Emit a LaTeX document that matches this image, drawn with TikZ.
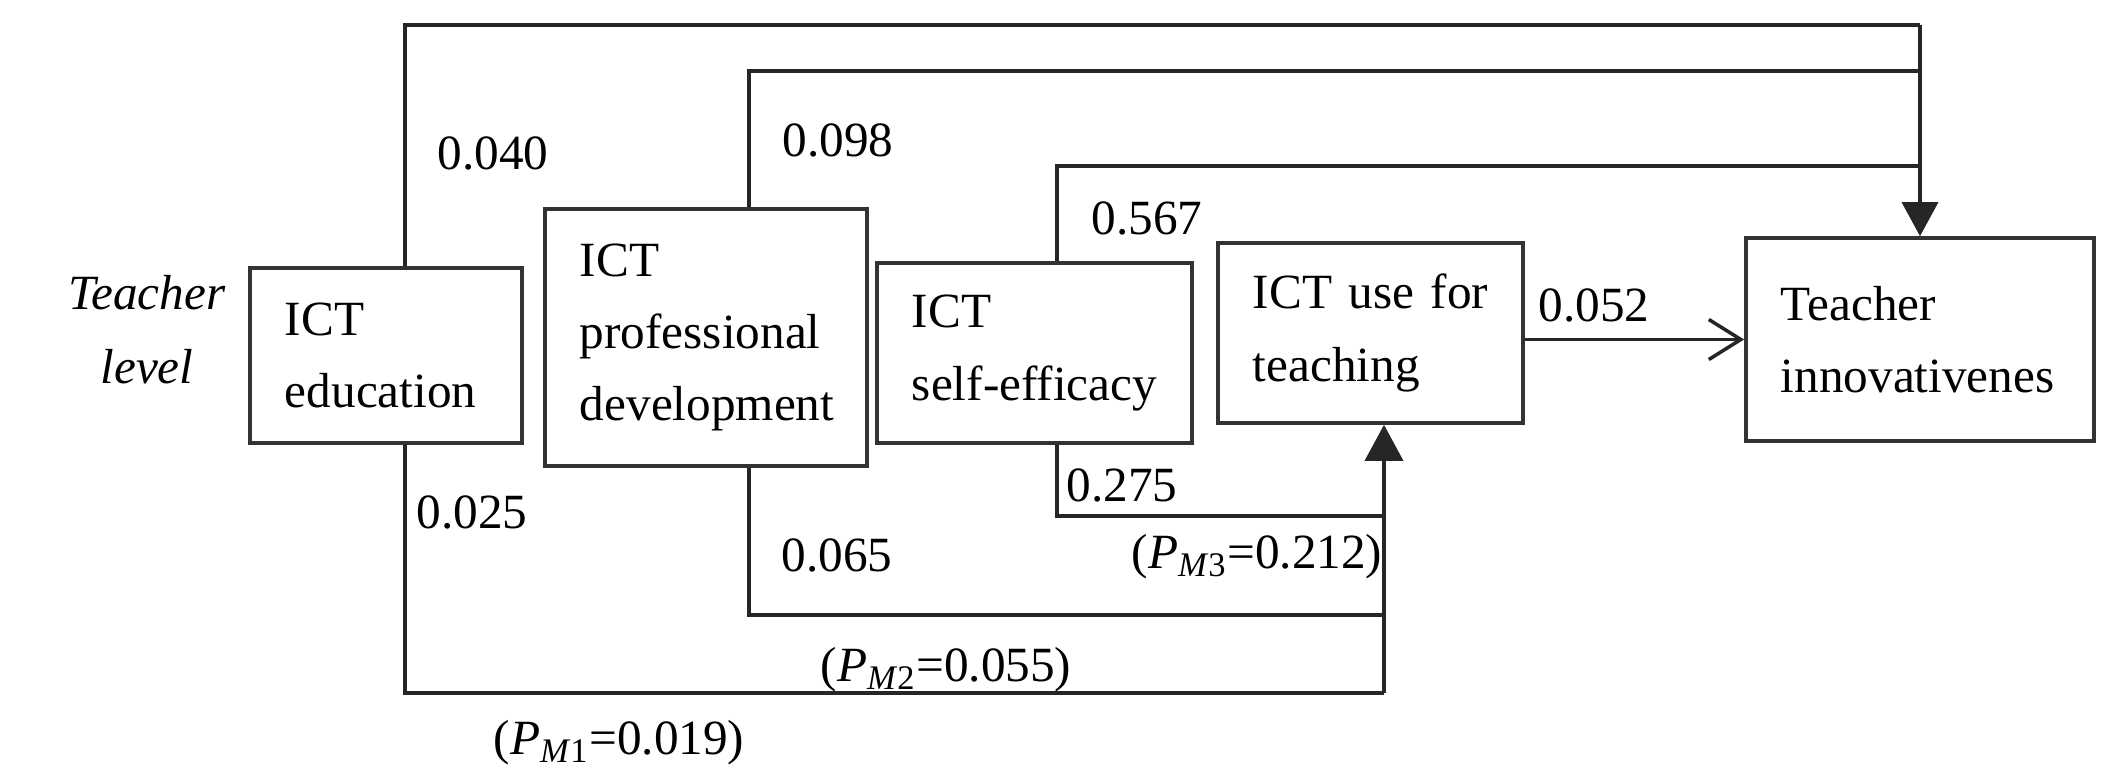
\documentclass[tikz,border=0pt]{standalone}
\usepackage{fontspec}
\setmainfont{Liberation Serif}
\usetikzlibrary{arrows.meta}
\tikzset{
  box/.style={draw=black!80,line width=1pt,inner xsep=0.35cm,align=left,
    font=\fontsize{14}{20.5}\selectfont},
  link/.style={draw=black!85,line width=1pt},
  coef/.style={font=\fontsize{14}{16}\selectfont,inner sep=0pt}
}
\begin{document}
\begin{tikzpicture}[x=0.01cm,y=-0.01cm]
      \useasboundingbox (0,0) rectangle (2120,770);
      \def \Boxes{
        edu/386/355.5/2.72/1.75/2.02/{ICT\\education},
        prof/706/337.5/3.22/2.57/2.52/{ICT\\professional\\development},
        eff/1034.5/353/3.15/1.80/2.45/{ICT\\self-efficacy},
        use/1370.5/333/3.05/1.80/2.35/{\mbox{ICT use for}\\teaching},
        innov/1920/339.5/3.48/2.03/2.78/{Teacher\\innovativenes}}
      \def \Tops{
        edu/405/25,
        prof/749/71,
        eff/1057/166}
      \def \Bottoms{
        edu/405/693,
        prof/749/615,
        eff/1057/516}
      \def \Coefs{
        493/153/0.040,
        838/140/0.098,
        1147/218/0.567,
        1594/305/0.052,
        1122/485/0.275,
        837/555/0.065,
        472/512/0.025}
      \foreach \id / \x / \y / \w / \h / \t / \txt in \Boxes{
        \node[box,minimum width=\w cm,minimum height=\h cm,text width=\t cm] (\id) at (\x, \y) {\txt};
      }
      \node[font=\fontsize{14}{21}\selectfont\itshape,align=center] (lvl) at (147, 330) {Teacher\\level};
      % direct paths to innovativeness
      \foreach \id / \x / \y in \Tops{
        \coordinate (t\id) at (\x, \y);
        \path[link] (t\id |- \id.north) -- (t\id) -- (t\id -| innov.north);
      }
      \path[link,-{Triangle[length=0.34cm,width=0.36cm]}] (tedu -| innov.north) -- (innov.north);
      % paths to ICT use
      \coordinate (iu) at (1384, 0);
      \foreach \id / \x / \y in \Bottoms{
        \coordinate (b\id) at (\x, \y);
        \path[link] (b\id |- \id.south) -- (b\id) -- (b\id -| iu);
      }
      \path[link,-{Triangle[length=0.36cm,width=0.38cm]}] (bedu -| iu) -- (iu |- use.south);
      \path[link,-{Straight Barb[length=0.32cm,width=0.4cm]}] (innov.west -| use.east) -- (innov.west);
      % coefficients
      \foreach \x / \y / \v [count=\i] in \Coefs{
        \node[coef] (c\i) at (\x, \y) {\v};
      }
      \node[coef] (pm3) at (1257, 557) {(\textit{P}\textsubscript{\textit{M}3}=0.212)};
      \node[coef] (pm2) at (946, 670) {(\textit{P}\textsubscript{\textit{M}2}=0.055)};
      \node[coef] (pm1) at (619, 743) {(\textit{P}\textsubscript{\textit{M}1}=0.019)};
    \end{tikzpicture}
\end{document}
